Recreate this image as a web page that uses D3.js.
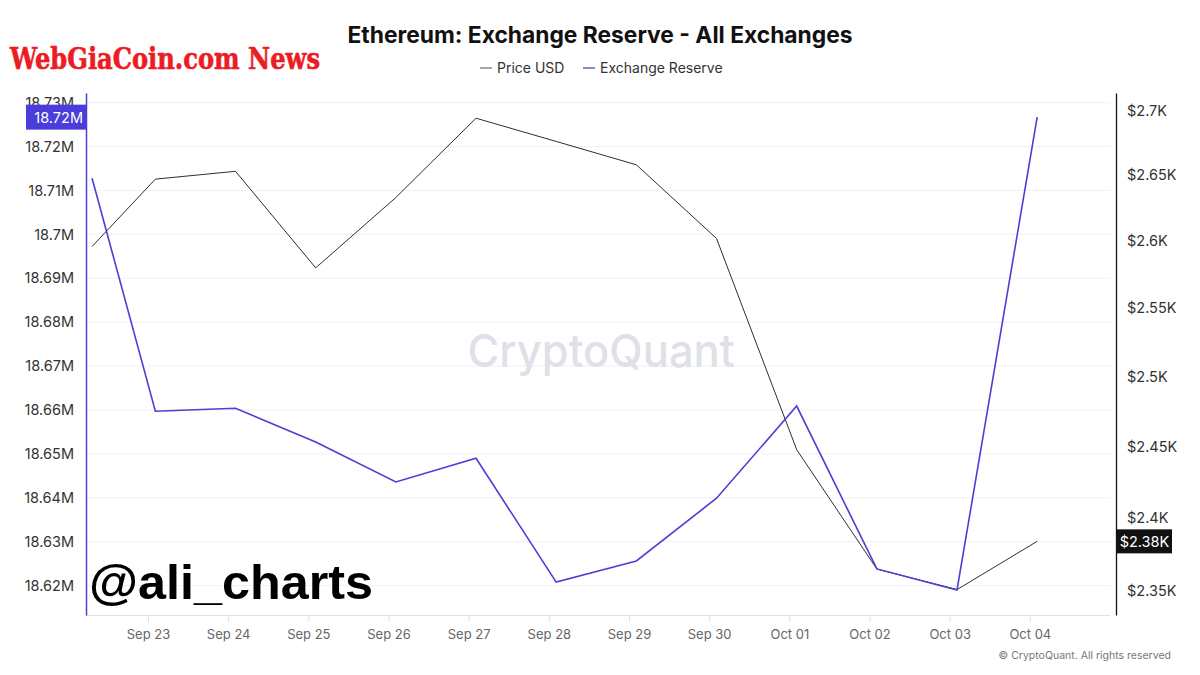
<!DOCTYPE html>
<html>
<head>
<meta charset="utf-8">
<script src="https://cdn.jsdelivr.net/npm/d3@7"></script>
<style>
  html, body { margin: 0; padding: 0; background: #fff; }
  svg { display: block; font-family: Inter, "Noto Sans", sans-serif; }
</style>
</head>
<body>
<svg id="chart" width="1200" height="675"></svg>
<script>
// ---------- data ----------
const dates = [
  "2024-09-22T07:15Z", "2024-09-23T02:12Z", "2024-09-24T02:12Z", "2024-09-25T02:12Z",
  "2024-09-26T02:12Z", "2024-09-27T02:12Z", "2024-09-28T02:12Z", "2024-09-29T02:12Z",
  "2024-09-30T02:12Z", "2024-10-01T02:12Z", "2024-10-02T02:12Z", "2024-10-03T02:12Z",
  "2024-10-04T02:12Z"
];
const reserveM = [18.7128, 18.6597, 18.6604, 18.6527, 18.6436, 18.6490, 18.6208,
                  18.6256, 18.6399, 18.6609, 18.6238, 18.6190, 18.7267];
const priceUSD = [2596, 2647, 2653, 2580, 2633, 2694, 2676, 2658, 2602, 2448, 2365, 2351, 2384];

const xTickDates = ["2024-09-23", "2024-09-24", "2024-09-25", "2024-09-26", "2024-09-27",
  "2024-09-28", "2024-09-29", "2024-09-30", "2024-10-01", "2024-10-02", "2024-10-03", "2024-10-04"];
const xTickLabels = ["Sep 23", "Sep 24", "Sep 25", "Sep 26", "Sep 27", "Sep 28", "Sep 29",
  "Sep 30", "Oct 01", "Oct 02", "Oct 03", "Oct 04"];
const leftTicks = [18.62, 18.63, 18.64, 18.65, 18.66, 18.67, 18.68, 18.69, 18.70, 18.71, 18.72, 18.73];
const rightTicks = [2350, 2400, 2450, 2500, 2550, 2600, 2650, 2700];

const titleText = "Ethereum: Exchange Reserve - All Exchanges";
const legendItems = ["Price USD", "Exchange Reserve"];

// ---------- layout ----------
const svg = d3.select("#chart");
const plot = { left: 86, right: 1110, top: 93, bottom: 615, rightAxis: 1116 };
const purple = "#4b3fd4";
const priceColor = "#2e2e2e";

const data = dates.map((d, i) => ({ t: new Date(d), r: reserveM[i], p: priceUSD[i] }));

const x = d3.scaleUtc()
  .domain([new Date("2024-09-22T05:26Z"), new Date("2024-10-05T00:00Z")])
  .range([plot.left, plot.right]);
const yL = d3.scaleLinear().domain([18.6133, 18.7322]).range([plot.bottom, plot.top]);
const yR = d3.scaleLog().domain([2333.8, 2713.7]).range([plot.bottom, plot.top]);

// gridlines
svg.append("g").selectAll("line").data(leftTicks).join("line")
  .attr("x1", plot.left).attr("x2", plot.right)
  .attr("y1", d => yL(d)).attr("y2", d => yL(d))
  .attr("stroke", "#f1f1f3").attr("stroke-width", 1);

// watermark
svg.append("text").attr("x", 601).attr("y", 367).attr("text-anchor", "middle")
  .attr("font-size", 45).attr("font-weight", 500).attr("fill", "#dfe1e8")
  .attr("textLength", 267).attr("lengthAdjust", "spacingAndGlyphs")
  .text("CryptoQuant");

// bottom axis
const xAxis = d3.axisBottom(x)
  .tickValues(xTickDates.map(d => new Date(d + "T00:00Z")))
  .tickFormat((d, i) => xTickLabels[i])
  .tickSizeInner(7).tickSizeOuter(0).tickPadding(8);
const gx = svg.append("g").attr("transform", `translate(0,${plot.bottom})`).call(xAxis);
gx.select(".domain").attr("stroke", "#e2e2e2");
gx.selectAll(".tick line").attr("stroke", "#e2e2e2");
gx.selectAll(".tick text").attr("fill", "#666").attr("font-size", 13)
  .attr("font-family", "Inter, sans-serif");

// left axis
const leftAxis = d3.axisLeft(yL).tickValues(leftTicks).tickSize(0).tickPadding(12)
  .tickFormat(d => (+d.toFixed(2)) + "M");
const gl = svg.append("g").attr("transform", `translate(${plot.left},0)`).call(leftAxis);
gl.select(".domain").attr("stroke", purple).attr("stroke-width", 1.5);
gl.selectAll(".tick text").attr("fill", "#333").attr("font-size", 14.5)
  .attr("font-family", "Inter, sans-serif");

// right axis
const rightAxis = d3.axisRight(yR).tickValues(rightTicks).tickSize(0).tickPadding(11)
  .tickFormat(d => "$" + (+(d / 1000).toFixed(2)) + "K");
const gr = svg.append("g").attr("transform", `translate(${plot.rightAxis},0)`).call(rightAxis);
gr.select(".domain").attr("stroke", "#111").attr("stroke-width", 1.3);
gr.selectAll(".tick text").attr("fill", "#333").attr("font-size", 14.5)
  .attr("font-family", "Inter, sans-serif");

// clip
svg.append("clipPath").attr("id", "clip").append("rect")
  .attr("x", plot.left).attr("y", plot.top)
  .attr("width", plot.right - plot.left).attr("height", plot.bottom - plot.top);

// lines
svg.append("path").datum(data).attr("clip-path", "url(#clip)")
  .attr("fill", "none").attr("stroke", priceColor).attr("stroke-width", 1)
  .attr("d", d3.line().x(d => x(d.t)).y(d => yR(d.p)));
svg.append("path").datum(data).attr("clip-path", "url(#clip)")
  .attr("fill", "none").attr("stroke", purple).attr("stroke-width", 1.6)
  .attr("d", d3.line().x(d => x(d.t)).y(d => yL(d.r)));

// last-value badges
const last = data[data.length - 1];
const lastR = Math.floor(last.r * 100) / 100;
const lastP = Math.floor(last.p / 10) / 100;
const ly = yL(last.r);
svg.append("rect").attr("x", 26).attr("y", ly - 12.5).attr("width", plot.left - 26).attr("height", 25)
  .attr("fill", "#4a3ddb");
svg.append("text").attr("x", plot.left - 3).attr("y", ly + 5.5).attr("text-anchor", "end")
  .attr("fill", "#fff").attr("font-size", 14.5).text(lastR + "M");
const py = yR(last.p);
svg.append("rect").attr("x", plot.rightAxis + 1).attr("y", py - 12).attr("width", 55).attr("height", 24)
  .attr("fill", "#111");
svg.append("text").attr("x", plot.rightAxis + 28.5).attr("y", py + 5.5).attr("text-anchor", "middle")
  .attr("fill", "#fff").attr("font-size", 14.5).text("$" + lastP + "K");

// title
svg.append("text").attr("x", 600).attr("y", 43).attr("text-anchor", "middle")
  .attr("font-size", 22.8).attr("font-weight", 700).attr("fill", "#111")
  .text(titleText);

// legend
const legend = svg.append("g");
const legColors = ["#888", "#6a60d0"];
const legX = [480, 583];
legendItems.forEach((name, i) => {
  legend.append("line").attr("x1", legX[i]).attr("x2", legX[i] + 12)
    .attr("y1", 68).attr("y2", 68).attr("stroke", legColors[i]).attr("stroke-width", 1.5);
  legend.append("text").attr("x", legX[i] + 17).attr("y", 73)
    .attr("font-size", 14).attr("fill", "#333").text(name);
});

// copyright
svg.append("text").attr("x", 1171).attr("y", 659).attr("text-anchor", "end")
  .attr("font-size", 10.5).attr("fill", "#777").text("© CryptoQuant. All rights reserved");

// overlays
svg.append("text").attr("x", 10).attr("y", 69)
  .attr("font-family", "'DejaVu Serif Condensed', 'DejaVu Serif', serif")
  .attr("font-weight", 700).attr("font-size", 30).attr("fill", "#ec1c24")
  .attr("stroke", "#ec1c24").attr("stroke-width", 0.6)
  .attr("textLength", 310).attr("lengthAdjust", "spacingAndGlyphs")
  .text("WebGiaCoin.com News");
svg.append("text").attr("x", 89).attr("y", 599)
  .attr("font-family", "'Liberation Sans', Arial, sans-serif")
  .attr("font-weight", 700).attr("font-size", 48).attr("fill", "#000")
  .attr("textLength", 284).attr("lengthAdjust", "spacingAndGlyphs")
  .text("@ali_charts");
</script>
</body>
</html>
